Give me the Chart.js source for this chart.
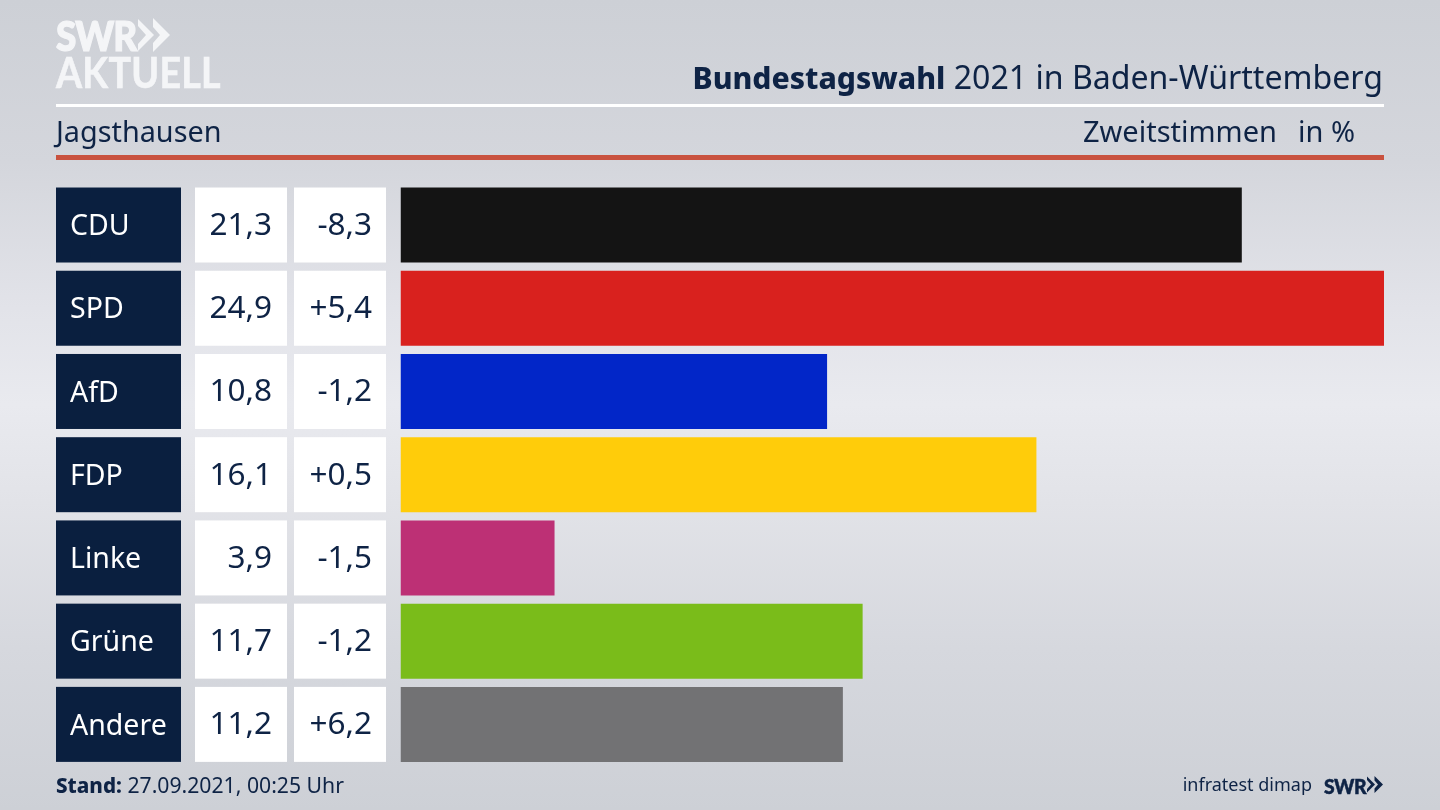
<!DOCTYPE html>
<html lang="de"><head><meta charset="utf-8"><title>Bundestagswahl 2021</title>
<script src="https://cdn.jsdelivr.net/npm/chart.js@4"></script>
<style>
html,body{margin:0;padding:0;width:1440px;height:810px;overflow:hidden}
body{position:relative;font-family:"Noto Sans",sans-serif;color:#0e2345;
background:linear-gradient(180deg,#cdd0d6 0%,#d4d6dc 20%,#e2e3e9 38%,#e9eaef 50%,#e2e3e8 62%,#d6d8de 80%,#cdd0d6 100%)}
#c{position:absolute;left:0;top:0}
.t{position:absolute;white-space:nowrap;line-height:1}
.rule{position:absolute;left:56px;width:1328px}
</style></head><body>
<canvas id="c" width="1440" height="810"></canvas>
<div class="rule" style="top:104px;height:3px;background:#fff"></div>
<div class="rule" style="top:155px;height:5px;background:#c9523f"></div>
<div class="t" style="left:56px;top:11px;font:900 41px Lato,sans-serif;color:#f4f5f7;letter-spacing:-1px;-webkit-text-stroke:1.2px #f4f5f7;transform:scaleX(.9);transform-origin:left">SWR</div>
<svg style="position:absolute;left:138px;top:18px" width="32" height="34" viewBox="0 0 32 34"><path d="M0 1 L16 17 L0 33 L0 26 L8 17 L0 8Z M15 0 L32 17 L15 34 L15 25 L22 17 L15 9Z" fill="#f4f5f7"/></svg>
<div class="t" style="left:56px;top:47px;font:700 42px Lato,sans-serif;color:#f4f5f7;letter-spacing:.3px;-webkit-text-stroke:.6px #f4f5f7;transform:scaleX(.895);transform-origin:left">AKTUELL</div>
<div class="t" style="right:57px;top:61px;font-size:32.1px"><b style="font-weight:800;font-size:30.1px">Bundestagswahl</b> 2021 in Baden-Württemberg</div>
<div class="t" style="left:56px;top:117px;font-size:28.8px">Jagsthausen</div>
<div class="t" style="right:163px;top:116px;font-size:29px">Zweitstimmen</div>
<div class="t" style="right:85px;top:116px;font-size:29px">in %</div>
<div class="t" style="left:56px;top:774px;font-size:21.2px"><b style="font-weight:800;font-size:20.6px">Stand:</b> 27.09.2021, 00:25 Uhr</div>
<div class="t" style="right:128px;top:775px;font-size:18px">infratest dimap</div>
<div class="t" style="left:1324px;top:773px;font:900 21px Lato,sans-serif;letter-spacing:-.5px;-webkit-text-stroke:.5px #0e2345;transform:scaleX(.92);transform-origin:left">SWR</div>
<svg style="position:absolute;left:1366px;top:776px" width="18" height="17" viewBox="0 0 32 34"><path d="M0 1 L16 17 L0 33 L0 26 L8 17 L0 8Z M15 0 L32 17 L15 34 L15 25 L22 17 L15 9Z" fill="#0e2345"/></svg>
<script>
const parties = ["CDU","SPD","AfD","FDP","Linke","Grüne","Andere"];
const shares = [21.3,24.9,10.8,16.1,3.9,11.7,11.2];
const changes = ["-8,3","+5,4","-1,2","+0,5","-1,5","-1,2","+6,2"];
const barColors = ["#141414","#d9211e","#0226c8","#ffcc0a","#bd3075","#7abc1a","#727274"];
const NAVY="#0a1f3f", INK="#0e2345";
const fmt=v=>v.toFixed(1).replace(".",",");
const table={id:"table",
 beforeDraw(ch){const c=ch.ctx,y=ch.scales.y;c.save();
  parties.forEach((p,i)=>{const m=y.getPixelForValue(i),h=75,t=m-h/2;
   c.fillStyle=NAVY;c.fillRect(56,t,125,h);
   c.fillStyle="#fff";c.fillRect(195,t,92,h);c.fillRect(294,t,92,h);});
  c.restore();},
 afterDraw(ch){const c=ch.ctx,y=ch.scales.y;c.save();
  c.font='31.5px "Noto Sans"';c.fillStyle=INK;c.textAlign="right";c.textBaseline="middle";
  parties.forEach((p,i)=>{const m=y.getPixelForValue(i)+1;
   c.fillText(fmt(shares[i]),272,m);c.fillText(changes[i],372,m);});
  c.restore();}};
new Chart(document.getElementById("c"),{type:"bar",
 data:{labels:parties,datasets:[{data:shares,backgroundColor:barColors,borderWidth:0,barPercentage:75/83.25,categoryPercentage:1}]},
 plugins:[table],
 options:{indexAxis:"y",responsive:false,animation:false,
  layout:{padding:{left:70,right:56,top:183.4,bottom:44}},
  plugins:{legend:{display:false},tooltip:{enabled:false},title:{display:false}},
  scales:{
   x:{display:false,min:0,max:24.9},
   y:{position:"left",border:{display:false},grid:{display:false,drawTicks:false},
      afterFit(s){s.width=330.5;},
      ticks:{crossAlign:"far",padding:0,color:"#fff",z:1,font:{family:"Noto Sans",size:28.5},
        callback(v){return parties[v];},labelOffset:2}}
  }}});
</script></body></html>
